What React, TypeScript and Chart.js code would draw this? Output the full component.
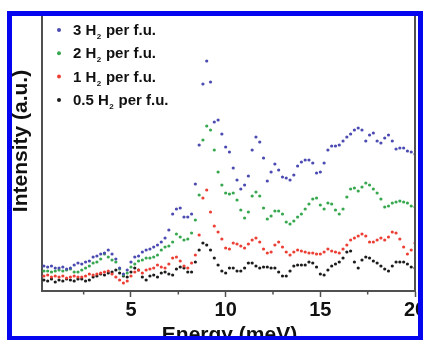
import React, { useEffect, useRef } from "react";
import { Chart, registerables } from "chart.js";

Chart.register(...registerables);

const energies = [
  0.4, 0.6, 0.8, 1.0, 1.2, 1.4, 1.6, 1.8, 2.0, 2.2,
  2.4, 2.6, 2.8, 3.0, 3.2, 3.4, 3.6, 3.8, 4.0, 4.2,
  4.4, 4.6, 4.8, 5.0, 5.2, 5.4, 5.6, 5.8, 6.0, 6.2,
  6.4, 6.6, 6.8, 7.0, 7.2, 7.4, 7.6, 7.8, 8.0, 8.2,
  8.4, 8.6, 8.8, 9.0, 9.2, 9.4, 9.6, 9.8, 10.0, 10.2,
  10.4, 10.6, 10.8, 11.0, 11.2, 11.4, 11.6, 11.8, 12.0, 12.2,
  12.4, 12.6, 12.8, 13.0, 13.2, 13.4, 13.6, 13.8, 14.0, 14.2,
  14.4, 14.6, 14.8, 15.0, 15.2, 15.4, 15.6, 15.8, 16.0, 16.2,
  16.4, 16.6, 16.8, 17.0, 17.2, 17.4, 17.6, 17.8, 18.0, 18.2,
  18.4, 18.6, 18.8, 19.0, 19.2, 19.4, 19.6, 19.8, 20.0,
];

const h2_3 = [
  25, 24, 25, 23, 23, 24, 22, 23, 26, 28,
  27, 29, 30, 34, 35, 37, 38, 41, 37, 32,
  23, 17, 21, 29, 34, 35, 39, 41, 42, 44,
  46, 49, 53, 61, 77, 82, 83, 74, 74, 77,
  107, 146, 207, 230, 209, 169, 171, 157, 144, 139,
  123, 111, 102, 106, 115, 141, 154, 149, 133, 110,
  119, 127, 121, 114, 113, 111, 116, 125, 129, 131,
  131, 128, 118, 119, 128, 141, 145, 145, 146, 150,
  154, 157, 161, 163, 161, 150, 156, 158, 150, 148,
  153, 156, 150, 142, 143, 143, 140, 139, 137,
];

const h2_2 = [
  20, 20, 19, 20, 21, 20, 21, 22, 19, 19,
  21, 23, 25, 28, 29, 32, 37, 34, 31, 29,
  22, 16, 18, 24, 27, 30, 31, 33, 33, 34,
  36, 41, 44, 45, 49, 57, 54, 51, 52, 58,
  71, 96, 151, 165, 161, 141, 119, 106, 98, 97,
  98, 91, 81, 73, 79, 95, 99, 95, 83, 72,
  75, 80, 80, 77, 69, 67, 70, 74, 77, 82,
  87, 92, 93, 86, 82, 88, 87, 81, 77, 82,
  94, 102, 103, 100, 104, 108, 106, 102, 98, 92,
  84, 85, 88, 89, 90, 89, 88, 85, 84,
];

const h2_1 = [
  15, 16, 14, 15, 14, 15, 13, 14, 15, 14,
  14, 15, 17, 16, 17, 18, 19, 20, 17, 14,
  11, 8, 10, 15, 19, 21, 18, 21, 22, 23,
  26, 24, 23, 27, 33, 34, 30, 25, 23, 28,
  36, 56, 93, 101, 79, 65, 59, 52, 43, 42,
  48, 47, 45, 43, 47, 51, 53, 49, 42, 38,
  39, 46, 49, 44, 39, 36, 39, 41, 40, 39,
  38, 38, 37, 37, 39, 42, 40, 39, 38, 42,
  46, 51, 53, 55, 57, 55, 49, 49, 51, 53,
  51, 54, 59, 58, 52, 44, 37, 41, 48,
];

const h2_05 = [
  11, 10, 12, 9, 11, 10, 12, 11, 10, 12,
  12, 10, 11, 14, 15, 17, 16, 18, 19, 21,
  18, 15, 14, 19, 23, 21, 14, 11, 15, 16,
  14, 18, 19, 17, 16, 22, 24, 23, 19, 19,
  29, 41, 48, 46, 41, 33, 26, 20, 18, 23,
  23, 20, 20, 23, 28, 28, 25, 23, 24, 24,
  23, 23, 19, 15, 15, 20, 25, 26, 26, 26,
  29, 28, 24, 17, 16, 21, 25, 27, 29, 33,
  39, 40, 29, 23, 31, 34, 33, 30, 28, 25,
  22, 20, 25, 29, 29, 29, 27, 24, 23,
];

const seriesLabels = ["3 H₂ per f.u.", "2 H₂ per f.u.", "1 H₂ per f.u.", "0.5 H₂ per f.u."];
const seriesColors = ["#4b4bb2", "#38a850", "#ec4036", "#1c1c1c"];
const seriesValues = [h2_3, h2_2, h2_1, h2_05];

const majorTicks = [5, 10, 15, 20];
const minorTicks = [2.5, 7.5, 12.5, 17.5];
const xTitle = "Energy (meV)";
const yTitle = "Intensity (a.u.)";

const FONT = '"Liberation Sans", Arial, Helvetica, sans-serif';
const AXIS_COLOR = "#505050";

const decorPlugin = {
  id: "decor",
  afterDraw(chart: any) {
    const ctx = chart.ctx;
    const { left, right, top, bottom } = chart.chartArea;
    const xs = chart.scales.x;
    ctx.save();
    // right frame line
    ctx.strokeStyle = AXIS_COLOR;
    ctx.lineWidth = 2;
    ctx.beginPath();
    ctx.moveTo(right, top);
    ctx.lineTo(right, bottom + 1);
    ctx.stroke();
    // minor ticks
    ctx.lineWidth = 1.5;
    minorTicks.forEach((v) => {
      const px = xs.getPixelForValue(v);
      ctx.beginPath();
      ctx.moveTo(px, bottom);
      ctx.lineTo(px, bottom + 3.5);
      ctx.stroke();
    });
    // titles
    ctx.fillStyle = "#111";
    ctx.font = `bold 21px ${FONT}`;
    ctx.textAlign = "center";
    ctx.textBaseline = "alphabetic";
    ctx.fillText(xTitle, (left + right) / 2 + 1, 341);
    ctx.translate(27, 141);
    ctx.rotate(-Math.PI / 2);
    ctx.fillText(yTitle, 0, 0);
    ctx.restore();

    // legend inside the plot
    ctx.save();
    chart.data.datasets.forEach((ds: any, i: number) => {
      const baseline = top + 19 + i * 23.3;
      ctx.fillStyle = ds.backgroundColor;
      ctx.beginPath();
      ctx.arc(left + 17, baseline - 5, 2, 0, Math.PI * 2);
      ctx.fill();
      ctx.fillStyle = "#111";
      ctx.textAlign = "left";
      ctx.textBaseline = "alphabetic";
      let x = left + 31;
      const parts = String(ds.label).split("₂");
      parts.forEach((p: string, k: number) => {
        ctx.font = `bold 15px ${FONT}`;
        ctx.fillText(p, x, baseline);
        x += ctx.measureText(p).width;
        if (k < parts.length - 1) {
          ctx.font = `bold 8px ${FONT}`;
          ctx.fillText("2", x + 0.5, baseline + 4);
          x += ctx.measureText("2").width + 1;
        }
      });
    });
    ctx.restore();
  },
};

export default function App() {
  const canvasRef = useRef<HTMLCanvasElement | null>(null);

  useEffect(() => {
    document.body.style.margin = "0";
    const canvas = canvasRef.current;
    if (!canvas) return;
    const datasets = seriesValues.map((vals, i) => ({
      label: seriesLabels[i],
      data: energies.map((e, j) => ({ x: e, y: vals[j] })),
      backgroundColor: seriesColors[i],
      borderColor: seriesColors[i],
      pointRadius: 1.6,
      pointBorderWidth: 0,
      showLine: false,
    }));
    const chart = new Chart(canvas, {
      type: "scatter",
      data: { datasets },
      options: {
        animation: false,
        responsive: false,
        events: [],
        layout: { padding: { top: 16, right: 8, left: 0, bottom: 0 }, autoPadding: false },
        plugins: { legend: { display: false }, tooltip: { enabled: false } },
        scales: {
          x: {
            type: "linear",
            min: 0.3,
            max: 20,
            afterBuildTicks: (scale: any) => {
              scale.ticks = majorTicks.map((v) => ({ value: v }));
            },
            afterFit: (scale: any) => {
              scale.height = 49;
              scale.paddingLeft = 0;
              scale.paddingRight = 0;
              scale.paddingTop = 0;
              scale.paddingBottom = 0;
            },
            ticks: {
              autoSkip: false,
              maxRotation: 0,
              padding: 1,
              color: "#111",
              font: { family: FONT, size: 20, weight: "bold" },
              callback: (v: any) => String(v),
            },
            grid: {
              drawOnChartArea: false,
              drawTicks: true,
              tickLength: 6,
              tickColor: AXIS_COLOR,
              tickWidth: 1.5,
            },
            border: { display: true, color: AXIS_COLOR, width: 2 },
          },
          y: {
            type: "linear",
            min: 0,
            max: 275,
            afterFit: (scale: any) => {
              scale.width = 42;
              scale.paddingTop = 0;
              scale.paddingBottom = 0;
            },
            ticks: { display: false },
            grid: { drawOnChartArea: false, drawTicks: false },
            border: { display: true, color: AXIS_COLOR, width: 2 },
          },
        },
      },
      plugins: [decorPlugin],
    });
    return () => chart.destroy();
  }, []);

  const blue = "#0505f0";
  return (
    <div style={{ position: "relative", width: 423, height: 340, background: "#fff", overflow: "hidden" }}>
      <canvas ref={canvasRef} width={423} height={340} style={{ display: "block" }} />
      <div style={{ position: "absolute", left: 7, top: 11, width: 416, height: 5, background: blue }} />
      <div style={{ position: "absolute", left: 7, top: 11, width: 5, height: 329, background: blue }} />
      <div style={{ position: "absolute", left: 418, top: 11, width: 5, height: 329, background: blue }} />
      <div style={{ position: "absolute", left: 7, top: 336, width: 416, height: 4, background: blue }} />
    </div>
  );
}
